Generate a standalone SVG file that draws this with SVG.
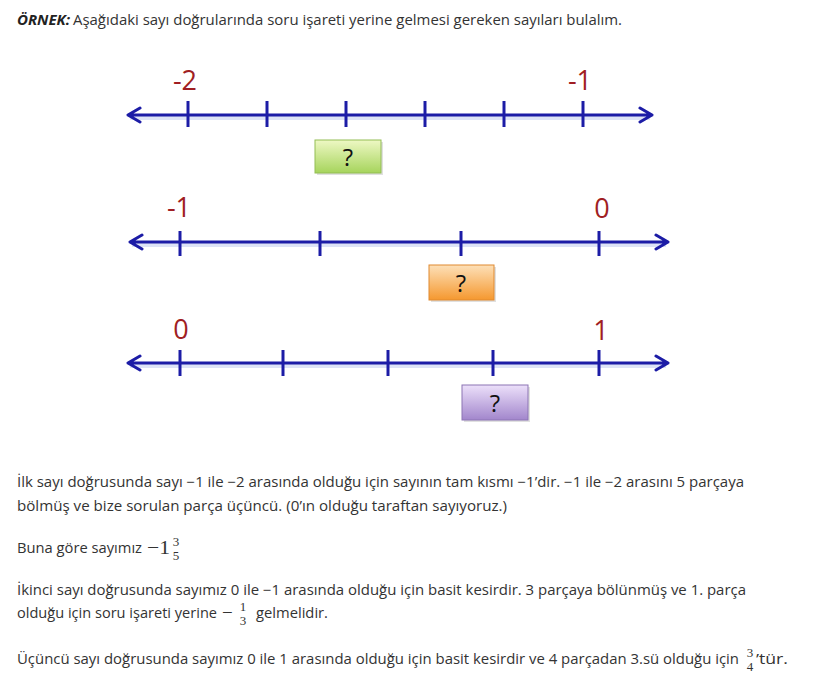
<svg xmlns="http://www.w3.org/2000/svg" width="839" height="691" viewBox="0 0 839 691">
<defs>
<style>
.txt{font-family:"Open Sans","Liberation Sans",sans-serif;font-size:14px;fill:#333}
.ttl{font-family:"Open Sans","Liberation Sans",sans-serif;font-size:14px;font-weight:bold;font-style:italic;fill:#222}
.math{font-family:"Liberation Serif","DejaVu Serif",serif;fill:#333}
.frac{font-family:"Liberation Serif","DejaVu Serif",serif;fill:#333;font-size:13px;text-anchor:middle}
.axis{stroke:#1c1ca6;stroke-width:3;fill:none;stroke-linecap:round;stroke-linejoin:round}
.glow{stroke:#9fb0e6;stroke-width:6;opacity:0.35;fill:none}
.tick{stroke:#1c1ca6;stroke-width:3}
.lbl{font-family:"Open Sans","Liberation Sans",sans-serif;font-size:27px;fill:#a01e23;text-anchor:middle}
.q{font-family:"Open Sans","Liberation Sans",sans-serif;font-size:24px;fill:#111;text-anchor:middle}
</style>
<linearGradient id="gG" x1="0" y1="0" x2="0" y2="1"><stop offset="0" stop-color="#eef8c4"/><stop offset="1" stop-color="#a6d45c"/></linearGradient>
<linearGradient id="gO" x1="0" y1="0" x2="0" y2="1"><stop offset="0" stop-color="#fde0b8"/><stop offset="1" stop-color="#f5982f"/></linearGradient>
<linearGradient id="gP" x1="0" y1="0" x2="0" y2="1"><stop offset="0" stop-color="#ece0fa"/><stop offset="1" stop-color="#a286cc"/></linearGradient>
</defs>
<rect width="839" height="691" fill="#ffffff"/>

<g id="title">
<text class="ttl" x="17" y="25" textLength="53" lengthAdjust="spacingAndGlyphs">ÖRNEK:</text>
<text class="txt" x="73" y="25" textLength="549" lengthAdjust="spacingAndGlyphs">Aşağıdaki sayı doğrularında soru işareti yerine gelmesi gereken sayıları bulalım.</text>
</g>

<g id="line1">
<line class="glow" x1="130" y1="117" x2="650" y2="117"/>
<path class="axis" d="M128,115 H652 M140,108 L128,115 L140,122 M640,108 L652,115 L640,122"/>
<g class="tick"><line x1="188" y1="101" x2="188" y2="127"/><line x1="267" y1="101" x2="267" y2="127"/><line x1="346" y1="101" x2="346" y2="127"/><line x1="425" y1="101" x2="425" y2="127"/><line x1="504" y1="101" x2="504" y2="127"/><line x1="583" y1="101" x2="583" y2="127"/></g>
<text class="lbl" x="185" y="90">-2</text>
<text class="lbl" x="580" y="90">-1</text>
</g>
<g id="box1">
<rect x="317" y="142" width="66" height="33" fill="#000" opacity="0.12"/>
<rect x="315" y="140" width="66" height="33" fill="url(#gG)" stroke="#93bd55" stroke-width="1"/>
<text class="q" x="348" y="166">?</text>
</g>

<g id="line2">
<line class="glow" x1="132" y1="244" x2="666" y2="244"/>
<path class="axis" d="M130,242 H668 M142,235 L130,242 L142,249 M656,235 L668,242 L656,249"/>
<g class="tick"><line x1="180" y1="231" x2="180" y2="256"/><line x1="320" y1="231" x2="320" y2="256"/><line x1="461" y1="231" x2="461" y2="256"/><line x1="599" y1="231" x2="599" y2="256"/></g>
<text class="lbl" x="179" y="217">-1</text>
<text class="lbl" x="602" y="218">0</text>
</g>
<g id="box2">
<rect x="431" y="267" width="65" height="35" fill="#000" opacity="0.12"/>
<rect x="429" y="265" width="65" height="35" fill="url(#gO)" stroke="#e08a30" stroke-width="1"/>
<text class="q" x="461" y="292">?</text>
</g>

<g id="line3">
<line class="glow" x1="130" y1="365" x2="666" y2="365"/>
<path class="axis" d="M128,363 H668 M140,356 L128,363 L140,370 M656,356 L668,363 L656,370"/>
<g class="tick"><line x1="180" y1="350" x2="180" y2="376"/><line x1="283" y1="350" x2="283" y2="376"/><line x1="388" y1="350" x2="388" y2="376"/><line x1="493" y1="350" x2="493" y2="376"/><line x1="599" y1="350" x2="599" y2="376"/></g>
<text class="lbl" x="181" y="339">0</text>
<text class="lbl" x="601" y="340">1</text>
</g>
<g id="box3">
<rect x="464" y="387" width="66" height="35" fill="#000" opacity="0.12"/>
<rect x="462" y="385" width="66" height="35" fill="url(#gP)" stroke="#8c74b4" stroke-width="1"/>
<text class="q" x="495" y="412">?</text>
</g>

<g id="explanation">
<text class="txt" x="17" y="487" textLength="727" lengthAdjust="spacingAndGlyphs">İlk sayı doğrusunda sayı −1 ile −2 arasında olduğu için sayının tam kısmı −1’dir. −1 ile −2 arasını 5 parçaya</text>
<text class="txt" x="17" y="511" textLength="490" lengthAdjust="spacingAndGlyphs">bölmüş ve bize sorulan parça üçüncü. (0’ın olduğu taraftan sayıyoruz.)</text>
<text class="txt" x="17" y="553" textLength="125" lengthAdjust="spacingAndGlyphs">Buna göre sayımız</text>
<text class="math" x="147" y="554" font-size="19" textLength="23" lengthAdjust="spacingAndGlyphs">−1</text>
<text class="frac" x="176" y="546">3</text>
<text class="frac" x="176" y="560">5</text>
<text class="txt" x="17" y="595" textLength="729" lengthAdjust="spacingAndGlyphs">İkinci sayı doğrusunda sayımız 0 ile −1 arasında olduğu için basit kesirdir. 3 parçaya bölünmüş ve 1. parça</text>
<text class="txt" x="17" y="618" textLength="200" lengthAdjust="spacingAndGlyphs">olduğu için soru işareti yerine</text>
<text class="math" x="222" y="619" font-size="19">−</text>
<text class="frac" x="243" y="611">1</text>
<text class="frac" x="243" y="625">3</text>
<text class="txt" x="256" y="618" textLength="72" lengthAdjust="spacingAndGlyphs">gelmelidir.</text>
<text class="txt" x="17" y="664" textLength="722" lengthAdjust="spacingAndGlyphs">Üçüncü sayı doğrusunda sayımız 0 ile 1 arasında olduğu için basit kesirdir ve 4 parçadan 3.sü olduğu için</text>
<text class="frac" x="750" y="657">3</text>
<text class="frac" x="750" y="671">4</text>
<text class="txt" x="756" y="664" textLength="32" lengthAdjust="spacingAndGlyphs">’tür.</text>
</g>
</svg>
